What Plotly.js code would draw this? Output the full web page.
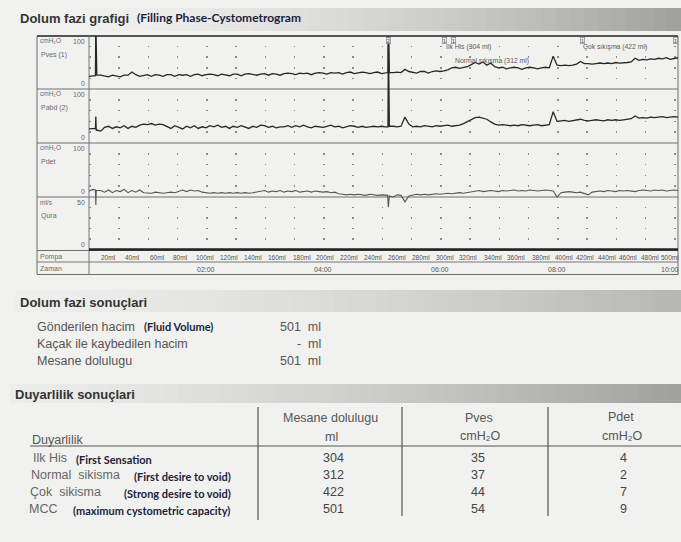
<!DOCTYPE html>
<html><head><meta charset="utf-8">
<script src="https://cdn.plot.ly/plotly-3.0.1.min.js"></script>
<style>html,body{margin:0;padding:0;background:#f1f1ef;} #chart{width:681px;height:542px;}</style>
</head><body><div id="chart"></div>
<script>
// ---------------- DATA ----------------
const SAMPLE_STEP = 4; // seconds between regular samples
const pves = [
 24,25,26,26,25,23,26,25,23,26,
 26,32,27,24,26,27,24,27,26,24,
 27,27,24,27,26,27,24,27,28,25,
 27,28,27,25,28,27,25,28,28,25,
 28,29,28,26,28,29,26,29,28,26,
 29,30,29,27,30,29,30,27,30,31,
 30,28,31,30,31,28,31,32,29,31,
 32,31,29,31,32,29,31,31,31,32,
 31,37,33,32,30,33,33,30,33,34,
 33,34,36,40,41,39,41,42,46,50,
 47,51,45,49,42,40,41,38,40,41,
 40,37,40,41,40,38,40,41,40,62,
 45,44,45,44,45,47,52,48,48,47,
 48,49,48,49,48,50,49,49,50,51,
 58,54,56,55,57,56,58,57,59,56,
 58,59];
const pabd = [
 26,27,24,22,29,31,27,30,28,32,
 27,31,29,33,35,34,36,33,35,34,
 30,27,32,29,26,31,28,32,27,30,
 28,32,30,33,29,31,27,31,29,32,
 29,27,31,29,33,32,29,31,28,30,
 30,32,29,32,30,33,30,28,31,30,
 29,31,33,30,31,28,30,32,31,29,
 31,29,30,31,30,31,30,31,31,30,
 31,48,35,30,31,30,32,31,30,32,
 31,32,33,31,32,33,36,40,44,47,
 48,46,44,39,35,33,34,33,32,33,
 32,34,33,32,33,34,32,33,34,58,
 40,41,42,40,41,42,44,42,41,42,
 43,42,41,43,42,43,42,43,44,45,
 50,46,47,46,48,47,48,49,47,48,
 49,48];
const pdet = [
 11,14,12,12,9,13,8,12,10,14,
 8,12,9,13,8,8,7,9,8,7,
 8,9,8,11,13,10,13,11,12,9,
 8,7,8,7,8,7,8,7,8,7,
 8,7,8,9,10,12,9,11,10,12,
 9,11,10,12,9,10,11,9,11,10,
 9,10,8,9,6,5,4,5,4,5,
 4,3,5,4,3,4,3,2,0,4,
 3,-9,2,4,5,4,5,4,5,6,
 5,6,7,6,7,8,7,8,10,11,
 12,10,11,12,11,10,12,11,12,13,
 11,12,11,13,12,11,12,13,12,11,
 0,8,9,10,9,8,9,7,4,9,
 10,11,10,12,11,10,12,11,12,11,
 10,12,13,12,11,13,12,13,11,12,
 13,12];
// short spikes (time s, value) read between the regular samples
const pvesSpikes = [[6.6,25],[7,130],[7.4,26],[306.6,31],[307,130],[307.4,31]];
const pabdSpikes = [[6.6,27],[7,49],[7.4,23],[306.6,30],[307,205],[307.4,31]];
const pdetSpikes = [[6.6,13],[7,-15],[7.4,12],[306.2,3],[307,-19],[307.8,1]];
const quraTimes = [0, 604];
const quraValues = [0, 0];

const pumpVolumes = [20,40,60,80,100,120,140,160,180,200,220,240,260,280,300,320,340,360,380,400,420,440,460,480,500];
const pumpTimes   = [20,45,70,94,119,144,168,193,218,242,267,291,316,340,365,389,414,438,463,487,509,531,553,575,604];
const timeTicks  = [120,240,360,480,600];
const timeLabels = ['02:00','04:00','06:00','08:00','10:00'];

const eventTimes = [307,365,374,506,601];
const eventMarks = ['2','1','1','1','1'];
const eventTexts = ['','Ilk His (304 ml)','Normal sıkışma (312 ml)','Çok sıkışma (422 ml)',''];

const resultLabels = ['Gönderilen hacim','Kaçak ile kaybedilen hacim','Mesane dolulugu'];
const resultNotes  = ['(Fluid Volume)','',''];
const resultValues = [501, null, 501];

const sensLabels = ['Ilk His','Normal  sikisma','Çok  sikisma','MCC'];
const sensNotes  = ['(First Sensation','(First desire to void)','(Strong desire to void)','(maximum cystometric capacity)'];
const sensVolume = [304,312,422,501];
const sensPves   = [35,37,44,54];
const sensPdet   = [4,2,7,9];

// ---------------- LAYOUT HELPERS ----------------
const W = 681, H = 542;
const X = x => x / W;
const Y = y => 1 - y / H;
const SANS = 'Liberation Sans, Arial, sans-serif';
const CAL = 'Lato, Carlito, sans-serif';
const NAVY = '#1c1e3c';
const CMH2O = 'cmH\u2082O';

const shapes = [];
const annotations = [];
function txt(s, x, y, size, color, anchor, family, bold) {
  annotations.push({xref:'paper', yref:'paper', x:X(x), y:Y(y),
    xanchor:anchor||'left', yanchor:'middle', text:s, showarrow:false,
    font:{family:family||SANS, size:size, color:color, weight:bold ? 'bold' : 'normal'}});
}
function hline(y, x0, x1, color, w) {
  shapes.push({type:'line', xref:'paper', yref:'paper', x0:X(x0), x1:X(x1), y0:Y(y), y1:Y(y), line:{color:color, width:w}, layer:'below'});
}
function vline(x, y0, y1, color, w) {
  shapes.push({type:'line', xref:'paper', yref:'paper', x0:X(x), x1:X(x), y0:Y(y0), y1:Y(y1), line:{color:color, width:w}, layer:'below'});
}
function band(x0, x1, y0, y1, c0, c1, n, gamma) {
  for (let i = 0; i < n; i++) {
    const f = Math.pow((i + 0.5) / n, gamma);
    const c = c0.map((v, k) => Math.round(v + (c1[k] - v) * f));
    shapes.push({type:'rect', xref:'paper', yref:'paper',
      x0:X(x0 + (x1 - x0) * i / n), x1:X(x0 + (x1 - x0) * (i + 1) / n) + 0.002,
      y0:Y(y1), y1:Y(y0), fillcolor:'rgb(' + c.join(',') + ')', line:{width:0}, layer:'below'});
  }
}

band(15, 681, 8, 31, [242,242,240], [160,160,158], 48, 1.7);
band(15, 681, 290, 312, [238,238,236], [182,182,180], 48, 1.4);
band(10, 681, 384, 403, [236,236,234], [160,160,158], 48, 1.4);

const PL = 89, PR = 678, TOP = 36, R1 = 89, R2 = 143, R3 = 197, R4 = 251, BOT = 274.5;
const XMAX = 604;
const pxPerSec = (PR - PL) / XMAX;
const dot = 1.6;
const gridDash = dot + 'px,' + (30 * pxPerSec - dot).toFixed(3) + 'px';

shapes.push({type:'rect', xref:'paper', yref:'paper', x0:X(37), x1:X(PR), y0:Y(BOT), y1:Y(TOP), line:{color:'#6a6a6a', width:1}, layer:'below'});
hline(TOP, 37, PR, '#555', 2);
[R1, R2, R3].forEach(y => hline(y, 37, PR, '#6e6e6e', 1));
hline(250.5, 37, PR, '#6e6e6e', 1);
hline(262, 37, PR, '#777', 1);
vline(PL, TOP, BOT, '#777', 1);

hline(446, 30, 681, '#555', 1.2);
vline(258, 407, 520, '#555', 1.2);
vline(402, 407, 516, '#555', 1.2);
vline(548, 407, 516, '#555', 1.2);

// ---------------- TEXT ----------------
txt('Dolum fazi grafigi', 18, 19, 13, '#363636', 'left', SANS, true);
txt('(Filling Phase-Cystometrogram', 135, 18, 12, NAVY, 'left', CAL, true);

const LG = '#6a6a6a';
[[CMH2O, 41, 'Pves (1)', 55],
 [CMH2O, 93, 'Pabd (2)', 108],
 [CMH2O, 147, 'Pdet', 162],
 ['ml/s', 202, 'Qura', 216]].forEach(r => {
  txt(r[0], 38, r[1], 6.5, LG);
  txt(r[2], 39, r[3], 7, LG);
});
txt('Pompa', 38, 257, 7, LG);
txt('Zaman', 38, 268, 7, LG);

[['y',100,0],['y2',100,0],['y3',100,0],['y4',50,0]].forEach(a => {
  annotations.push({xref:'paper', x:X(87), xanchor:'right', yref:a[0], y:a[1], yanchor:'top', text:String(a[1]), showarrow:false, font:{family:SANS, size:7, color:LG}});
  annotations.push({xref:'paper', x:X(87), xanchor:'right', yref:a[0], y:a[2], yanchor:'bottom', text:String(a[2]), showarrow:false, font:{family:SANS, size:7, color:LG}});
});

pumpVolumes.forEach((v, i) => {
  const last = i === pumpVolumes.length - 1;
  annotations.push({xref:'x', x:pumpTimes[i], xanchor:last ? 'right' : 'center', xshift:last ? 3 : 0, yref:'paper', y:Y(257), yanchor:'middle', text:v + 'ml', showarrow:false, font:{family:SANS, size:6.5, color:'#555'}});
});
timeTicks.forEach((t, i) => {
  const last = i === timeTicks.length - 1;
  annotations.push({xref:'x', x:t, xanchor:last ? 'right' : 'center', xshift:last ? 7 : 0, yref:'paper', y:Y(269), yanchor:'middle', text:timeLabels[i], showarrow:false, font:{family:SANS, size:7, color:'#555'}});
});

eventTimes.forEach((t, i) => {
  annotations.push({xref:'x', x:t, xanchor:'center', yref:'paper', y:Y(41), yanchor:'middle', text:eventMarks[i], showarrow:false,
    font:{family:SANS, size:6, color:'#555'}, bordercolor:'#888', borderwidth:0.7, borderpad:0, bgcolor:'rgba(240,240,238,0.9)'});
});
[[1, 47], [2, 61], [3, 47]].forEach(p => {
  annotations.push({xref:'x', x:eventTimes[p[0]], xanchor:'left', xshift:-1, yref:'paper', y:Y(p[1]), yanchor:'middle', text:eventTexts[p[0]], showarrow:false, font:{family:SANS, size:6.8, color:'#5a5a5a'}});
});

txt('Dolum fazi sonuçlari', 18, 302, 13, '#333', 'left', SANS, true);
const BODY = '#555';
[327, 344, 361].forEach((y, i) => {
  txt(resultLabels[i], 35, y, 12.5, BODY);
  if (resultNotes[i]) txt(resultNotes[i], 142, y - 1, 11, NAVY, 'left', CAL, true);
  const v = resultValues[i] === null ? '-' : String(resultValues[i]);
  txt(v + '  ml', 323, y, 12.5, BODY, 'right');
});

txt('Duyarlilik sonuçlari', 13, 394, 13, '#333', 'left', SANS, true);
txt('Mesane dolulugu', 330, 418, 12.5, BODY, 'center');
txt('ml', 331, 437, 12.5, BODY, 'center');
txt('Pves', 479, 418, 12.5, BODY, 'center');
txt(CMH2O, 480, 436, 12.5, BODY, 'center');
txt('Pdet', 621, 417, 12.5, BODY, 'center');
txt(CMH2O, 622, 436, 12.5, BODY, 'center');
txt('Duyarlilik', 30, 440, 12.5, BODY);
const rowY = [458, 475, 492, 509];
const labX = [31, 29, 28, 27];
const noteX = [74, 132, 122, 71];
rowY.forEach((y, i) => {
  txt(sensLabels[i], labX[i], y, 12.5, '#666');
  txt(sensNotes[i], noteX[i], y + 1, 11, NAVY, 'left', CAL, true);
  txt(String(sensVolume[i]), 333, y, 12.5, '#444', 'center');
  txt(String(sensPves[i]), 478, y, 12.5, '#444', 'center');
  txt(String(sensPdet[i]), 623, y, 12.5, '#444', 'center');
});

// ---------------- TRACES ----------------
function withSpikes(values, spikes) {
  const pts = values.map((v, i) => [i * SAMPLE_STEP, v]).concat(spikes);
  pts.sort((a, b) => a[0] - b[0]);
  return {x: pts.map(p => p[0]), y: pts.map(p => p[1])};
}
const sPves = withSpikes(pves, pvesSpikes);
const sPabd = withSpikes(pabd, pabdSpikes);
const sPdet = withSpikes(pdet, pdetSpikes);
const traces = [
  {x:sPves.x, y:sPves.y, xaxis:'x', yaxis:'y', mode:'lines', line:{color:'#272727', width:1.3}, hoverinfo:'skip', name:'Pves'},
  {x:sPabd.x, y:sPabd.y, xaxis:'x', yaxis:'y2', mode:'lines', line:{color:'#272727', width:1.3}, hoverinfo:'skip', name:'Pabd'},
  {x:sPdet.x, y:sPdet.y, xaxis:'x', yaxis:'y3', mode:'lines', line:{color:'#555', width:1.1}, hoverinfo:'skip', name:'Pdet'},
  {x:quraTimes, y:quraValues, xaxis:'x', yaxis:'y4', mode:'lines', line:{color:'#222', width:2.3}, hoverinfo:'skip', name:'Qura'}
];

function yax(domTopPx, domBotPx, range, grid) {
  return {domain:[Y(domBotPx), Y(domTopPx)], range:range, anchor:'x', showticklabels:false, ticks:'',
    zeroline:false, showline:false, tickvals:grid, showgrid:true, gridcolor:'#8a8a8a', gridwidth:dot, griddash:gridDash, fixedrange:true};
}
const layout = {
  width:W, height:H, margin:{l:0, r:0, t:0, b:0},
  paper_bgcolor:'#f1f1ef', plot_bgcolor:'rgba(0,0,0,0)', showlegend:false,
  xaxis:{domain:[X(PL), X(PR)], range:[0, XMAX], showgrid:false, zeroline:false, showticklabels:false, ticks:'', showline:false, anchor:'y4', fixedrange:true},
  yaxis: yax(TOP, R1, [0, 100], [20,40,60,80]),
  yaxis2: yax(TOP, R2, [0, 100 * (R2 - TOP) / (R2 - R1)], [20,40,60,80]),
  yaxis3: yax(R2, R4, [-100 * (R4 - R3) / (R3 - R2), 100], [20,40,60,80]),
  yaxis4: yax(R3, R4, [-50 * (R4 - 249.5) / (249.5 - R3), 50], [10,20,30,40]),
  shapes:shapes, annotations:annotations
};
Plotly.newPlot('chart', traces, layout, {staticPlot:true, displayModeBar:false});
</script>
</body></html>
